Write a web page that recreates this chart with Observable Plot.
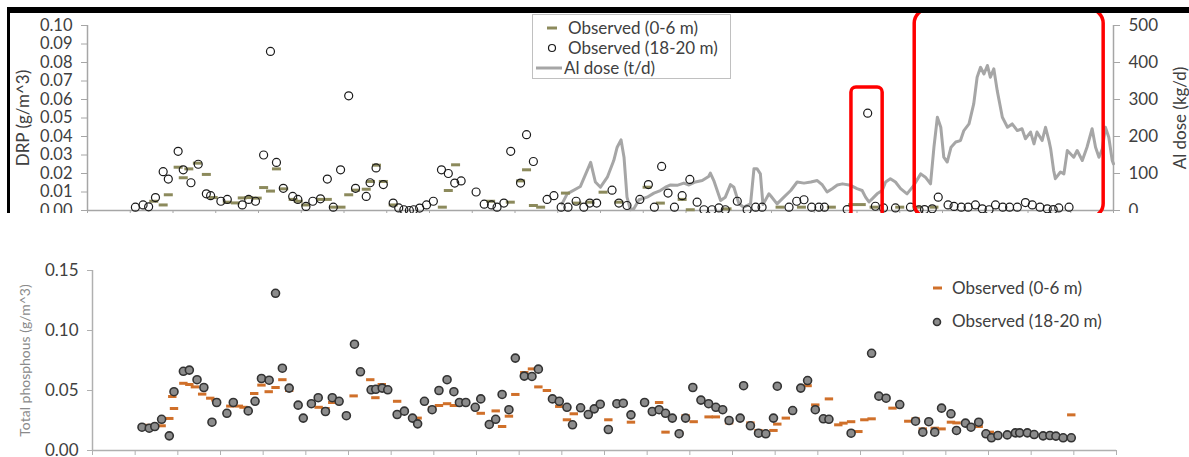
<!DOCTYPE html>
<html>
<head>
<meta charset="utf-8">
<script src="https://cdn.jsdelivr.net/npm/d3@7"></script>
<script src="https://cdn.jsdelivr.net/npm/@observablehq/plot@0.6"></script>
<style>
  body { margin: 0; background: #fff; font-family: Lato, "Liberation Sans", sans-serif; }
  #wrap { position: relative; width: 1189px; height: 457px; overflow: hidden; background: #fff; }
  #top { position: absolute; left: 0; top: 0; }
  #bot { position: absolute; left: 0; top: 215px; }
  #frame { position: absolute; left: 7px; top: 7px; width: 1182px; height: 206px; border-top: 6px solid #000; border-left: 3px solid #000; box-sizing: border-box; pointer-events: none; z-index: 5; }
  .leg { position: absolute; font-family: Lato, sans-serif; font-size: 17px; color: #404040; z-index: 4; }
  .leg .row { position: absolute; left: 0; white-space: nowrap; line-height: 20px; }
  .leg svg { position: absolute; }
  #legTop { left: 532px; top: 14px; width: 197px; height: 63px; border: 1px solid #c0c0c0; background: #fff; }
  #legBot { left: 928px; top: 277px; width: 200px; height: 60px; }
</style>
</head>
<body>
<div id="wrap">
  <div id="top"></div>
  <div id="bot"></div>
  <div id="legTop" class="leg">
    <svg style="left:12px;top:8px" width="14" height="10"><line x1="2" x2="12" y1="5" y2="5" stroke="#8c8a5c" stroke-width="3"/></svg>
    <span class="row" style="left:35px;top:3px">Observed (0-6 m)</span>
    <svg style="left:12px;top:28px" width="14" height="10"><circle cx="7" cy="5" r="3.5" fill="none" stroke="#1a1a1a" stroke-width="1.2"/></svg>
    <span class="row" style="left:35px;top:23px">Observed (18-20 m)</span>
    <svg style="left:3px;top:48px" width="28" height="10"><line x1="0" x2="26" y1="5" y2="5" stroke="#a6a6a6" stroke-width="3"/></svg>
    <span class="row" style="left:31px;top:43px">Al dose (t/d)</span>
  </div>
  <div id="legBot" class="leg">
    <svg style="left:3px;top:6px" width="14" height="10"><line x1="2" x2="11" y1="5" y2="5" stroke="#d0702a" stroke-width="3"/></svg>
    <span class="row" style="left:24px;top:1px">Observed (0-6 m)</span>
    <svg style="left:3px;top:39px" width="14" height="12"><circle cx="6" cy="6" r="3.5" fill="#8c8c8c" stroke="#333" stroke-width="1.6"/></svg>
    <span class="row" style="left:24px;top:34px">Observed (18-20 m)</span>
  </div>
  <div id="frame"></div>
</div>
<script>
// ---------- DATA (x in period units, 0..24) ----------
// Top panel: dissolved reactive phosphorus (g/m^3)
const drpDeepX = [1.12,1.30,1.43,1.59,1.77,1.89,2.12,2.24,2.42,2.59,2.78,2.88,3.12,3.27,3.62,3.77,3.93,4.12,4.28,4.42,4.58,4.80,4.92,5.11,5.27,5.45,5.61,5.75,5.92,6.11,6.27,6.52,6.61,6.75,6.92,7.15,
  7.28,7.40,7.53,7.63,7.77,7.93,8.09,8.28,8.44,8.59,8.74,9.09,9.28,9.45,9.58,9.74,9.90,10.13,10.27,10.43,10.75,10.91,11.08,11.24,11.43,11.61,11.75,11.91,12.27,12.43,12.62,12.92,13.12,13.26,13.43,13.58,13.73,13.91,14.09,14.26,14.42,14.61,14.77,14.92,15.20,15.43,15.63,15.78,
  16.41,16.59,16.76,16.94,17.11,17.24,17.77,18.25,18.43,18.62,18.90,19.25,19.45,19.58,19.76,19.90,20.13,20.27,20.44,20.60,20.77,20.93,21.09,21.24,21.41,21.57,21.75,21.94,22.10,22.28,22.45,22.59,22.72,22.96];
const drpDeep = [0.0018,0.003,0.002,0.007,0.021,0.017,0.032,0.022,0.015,0.025,0.009,0.008,0.005,0.006,0.003,0.006,0.005,0.030,0.086,0.026,0.012,0.0076,0.006,0.0022,0.005,0.0063,0.017,0.0018,0.022,0.062,0.012,0.0076,0.015,0.023,0.014,0.004,
  0.0014,0.0004,0.0,0.0004,0.0013,0.003,0.005,0.022,0.020,0.0148,0.016,0.010,0.0034,0.003,0.0018,0.004,0.032,0.0148,0.041,0.0265,0.006,0.008,0.0018,0.0018,0.005,0.0018,0.004,0.004,0.011,0.004,0.0027,0.006,0.014,0.0018,0.0238,0.0094,0.0018,0.008,0.0168,0.0045,0.0004,0.0004,0.0014,0.0004,0.005,0.0004,0.0018,0.0018,
  0.0018,0.005,0.0058,0.0018,0.0018,0.0018,0.0005,0.0526,0.0023,0.0014,0.0014,0.0018,0.0004,0.0005,0.0009,0.0072,0.003,0.0022,0.0018,0.0018,0.003,0.0009,0.0004,0.003,0.0018,0.0018,0.0018,0.0043,0.003,0.0018,0.0009,0.0005,0.0014,0.0018];
const drpSurfX = [1.55,1.77,1.89,2.12,2.24,2.37,2.57,2.78,2.94,3.27,3.46,3.62,3.77,3.97,4.12,4.28,4.42,4.59,4.81,4.93,5.10,5.45,5.61,5.76,5.93,6.11,6.27,6.52,6.62,6.76,6.92,7.15,
  8.30,8.44,8.61,9.43,9.89,10.13,10.27,10.43,10.60,11.18,11.45,11.75,12.06,12.43,13.09,13.40,13.91,14.10,14.96,16.2,16.7,17.4,17.9,18.1,18.4,19.0,19.4,19.8];
const drpSurf = [0.005,0.003,0.0085,0.0234,0.0177,0.0225,0.0256,0.0195,0.007,0.0045,0.0041,0.0068,0.007,0.0067,0.0124,0.0105,0.0225,0.0117,0.006,0.005,0.003,0.006,0.006,0.0018,0.0018,0.0085,0.011,0.0115,0.0157,0.0245,0.0157,0.003,
  0.0018,0.0108,0.0247,0.005,0.0045,0.016,0.022,0.0027,0.0018,0.0094,0.004,0.0045,0.0099,0.0045,0.0126,0.004,0.006,0.0004,0.0009,0.0018,0.0018,0.0018,0.0032,0.0032,0.0018,0.0018,0.0018,0.0018];
// Al dose (kg/d)
const alX = [11.10,11.22,11.53,11.77,11.88,12.00,12.16,12.31,12.39,12.48,12.55,12.62,12.70,12.78,12.90,13.09,13.25,13.40,13.52,13.64,13.79,13.95,14.07,14.22,14.38,14.53,14.57,14.65,14.81,14.92,15.04,15.12,15.24,15.35,15.51,15.59,15.66,15.74,15.80,15.94,
  15.98,16.13,16.29,16.45,16.60,16.76,16.92,17.07,17.19,17.30,17.42,17.54,17.66,17.85,18.00,18.12,18.20,18.28,18.36,18.47,18.59,18.67,18.78,18.90,19.02,19.17,19.33,19.49,19.60,19.72,19.80,19.88,19.96,20.03,20.11,20.20,20.31,20.42,20.50,20.62,20.73,20.81,20.89,20.97,21.05,21.12,21.20,21.28,21.40,21.52,21.63,21.75,21.86,21.94,22.06,22.14,22.21,22.33,22.41,22.49,22.53,22.60,22.64,22.76,22.84,22.92,23.07,23.15,23.27,23.38,23.50,23.58,23.66,23.74,23.81,23.89,23.97,24.00];
const alDose = [18,45,65,130,77,63,90,135,171,191,144,36,2,5,29,36,47,54,63,69,68,74,69,77,81,92,101,81,27,36,70,63,18,9,18,113,113,99,16,45,
  40,18,36,54,77,74,77,81,69,50,59,69,72,68,59,54,36,23,32,45,54,77,86,77,59,45,68,99,90,72,171,252,225,144,131,171,185,189,216,234,288,360,387,369,392,360,383,324,252,225,234,216,221,194,212,180,212,189,225,189,167,108,86,104,99,162,144,162,135,171,221,171,144,167,225,198,135,126];
// Bottom panel: total phosphorus (g/m^3)
const tpDeepX = [1.16,1.33,1.46,1.62,1.80,1.91,2.13,2.27,2.45,2.61,2.80,2.91,3.15,3.30,3.65,3.81,3.96,4.14,4.29,4.45,4.61,4.82,4.94,5.13,5.29,5.46,5.62,5.78,5.95,6.14,6.28,6.53,6.64,6.79,6.92,7.14,7.31,7.50,7.62,7.78,7.96,8.12,8.31,8.47,8.60,8.75,8.97,9.10,9.30,9.45,9.60,9.76,9.91,10.12,10.30,10.45,10.78,10.94,11.12,11.25,11.44,11.62,11.76,11.90,12.09,12.29,12.44,12.62,12.94,13.12,13.28,13.43,13.59,13.75,13.90,14.07,14.26,14.44,14.61,14.77,14.92,15.18,15.26,15.42,15.61,15.78,15.96,16.05,16.41,16.60,16.76,16.94,17.13,17.26,17.78,18.26,18.43,18.60,18.92,19.29,19.46,19.60,19.74,19.90,20.12,20.25,20.46,20.59,20.77,20.94,21.07,21.22,21.44,21.63,21.73,21.91,22.07,22.28,22.44,22.58,22.75,22.94];
const tpDeep = [0.0194,0.0186,0.020,0.026,0.0122,0.049,0.066,0.067,0.059,0.0525,0.0236,0.040,0.031,0.040,0.033,0.041,0.060,0.0586,0.131,0.0686,0.052,0.0378,0.027,0.039,0.044,0.0325,0.044,0.041,0.029,0.0886,0.0656,0.0506,0.051,0.052,0.0506,0.030,0.0328,0.027,0.0222,0.041,0.034,0.050,0.059,0.049,0.040,0.040,0.036,0.043,0.0217,0.026,0.0467,0.034,0.077,0.062,0.0617,0.0678,0.043,0.041,0.036,0.0214,0.0356,0.030,0.0347,0.0386,0.0175,0.039,0.0394,0.0297,0.040,0.0325,0.034,0.031,0.027,0.014,0.027,0.0525,0.042,0.039,0.036,0.034,0.025,0.027,0.054,0.0206,0.0144,0.0139,0.027,0.0536,0.0333,0.052,0.0583,0.034,0.0264,0.026,0.0144,0.081,0.0453,0.0436,0.0383,0.0244,0.0153,0.024,0.0153,0.0353,0.0306,0.0167,0.0228,0.0194,0.0236,0.0139,0.0106,0.0125,0.013,0.0147,0.0147,0.0147,0.0133,0.0122,0.0125,0.012,0.0106,0.0106];
const tpSurfX = [1.28,1.62,1.80,1.87,1.91,2.13,2.27,2.40,2.57,2.76,2.88,3.23,3.43,3.54,3.79,3.96,4.13,4.29,4.45,4.61,5.30,5.46,5.62,6.12,6.51,6.63,6.78,7.14,7.62,7.96,8.12,8.31,8.47,9.10,9.45,9.60,9.76,9.91,10.12,10.30,10.45,10.65,10.94,11.12,11.28,12.09,12.62,13.28,13.43,13.75,13.90,14.09,14.44,14.61,14.92,15.42,15.61,15.96,16.05,16.25,16.76,16.94,17.26,17.48,17.60,17.78,17.95,18.09,18.26,18.75,19.12,19.29,19.46,19.74,19.90,20.12,20.25,20.77,21.03,22.94];
const tpSurf = [0.021,0.0206,0.0267,0.045,0.035,0.056,0.055,0.053,0.047,0.0436,0.042,0.037,0.037,0.036,0.0475,0.0545,0.049,0.0525,0.059,0.050,0.036,0.035,0.040,0.0455,0.059,0.044,0.055,0.041,0.027,0.0356,0.0375,0.039,0.0375,0.031,0.033,0.020,0.0286,0.0467,0.065,0.068,0.053,0.050,0.0367,0.0256,0.0306,0.0256,0.0236,0.040,0.0153,0.0147,0.029,0.024,0.028,0.028,0.023,0.023,0.0167,0.0167,0.022,0.027,0.054,0.038,0.043,0.0214,0.0228,0.024,0.0158,0.0256,0.0264,0.0353,0.0244,0.0264,0.018,0.0186,0.018,0.0236,0.023,0.020,0.0153,0.0297];
// Highlight boxes (data units)
const boxSmall = [{x1: 17.87, x2: 18.60, y1: -0.004, y2: 0.0665}];
const boxLarge = [{x1: 19.35, x2: 23.77, y1: -0.004, y2: 0.1086}];

// ---------- BUILD ----------
const zip = (xs, ys) => xs.map((x, i) => ({x, y: ys[i]}));
const alData = alX.map((x, i) => ({x, y: alDose[i] / 5000}));
const hline = {draw(ctx, size) { const r = Math.sqrt(size / Math.PI); ctx.moveTo(-r, 0); ctx.lineTo(r, 0); }};
const axisGray = "#a6a6a6";
const txt = "#404040";

const topPlot = Plot.plot({
  width: 1189, height: 213,
  marginTop: 25, marginBottom: 3, marginLeft: 87, marginRight: 76,
  style: {fontFamily: "Lato, sans-serif", fontSize: "17px", color: txt, background: "transparent"},
  x: {domain: [0, 24]},
  y: {domain: [0, 0.1]},
  marks: [
    Plot.axisX({ticks: d3.range(0, 25), tickSize: 5, tickFormat: () => "", stroke: axisGray, label: null}),
    Plot.axisY({anchor: "left", ticks: d3.range(0, 0.1001, 0.01), tickFormat: d3.format(".2f"), tickSize: 6, tickPadding: 9, stroke: axisGray, fill: txt, fontSize: 16.5, label: null}),
    Plot.axisY({anchor: "left", ticks: [], label: "DRP (g/m^3)", labelAnchor: "center", labelOffset: 71, labelArrow: "none", fill: txt}),
    Plot.axisY({anchor: "right", ticks: d3.range(0, 0.1001, 0.02), tickFormat: d => Math.round(d * 5000), tickSize: 6, tickPadding: 9, stroke: axisGray, fill: txt, label: null}),
    Plot.axisY({anchor: "right", ticks: [], label: "Al dose (kg/d)", labelAnchor: "center", labelOffset: 72, labelArrow: "none", fill: txt}),
    Plot.ruleY([0], {stroke: axisGray, strokeWidth: 1.5}),
    Plot.ruleX([0, 24], {stroke: axisGray, strokeWidth: 1.5}),
    Plot.line(alData, {x: "x", y: "y", stroke: "#a6a6a6", strokeWidth: 3}),
    Plot.dot(zip(drpSurfX, drpSurf), {x: "x", y: "y", symbol: hline, r: 4.5, stroke: "#8c8a5c", strokeWidth: 3, fill: "none"}),
    Plot.dot(zip(drpDeepX, drpDeep), {x: "x", y: "y", r: 4, stroke: "#1a1a1a", strokeWidth: 1.2, fill: "none"}),
    Plot.rect(boxSmall, {x1: "x1", x2: "x2", y1: "y1", y2: "y2", stroke: "#ff0000", strokeWidth: 3.5, fill: "none", rx: 5}),
    Plot.rect(boxLarge, {x1: "x1", x2: "x2", y1: "y1", y2: "y2", stroke: "#ff0000", strokeWidth: 3.5, fill: "none", rx: 14})
  ]
});
document.getElementById("top").appendChild(topPlot);

const botPlot = Plot.plot({
  width: 1189, height: 242,
  marginTop: 55, marginBottom: 7, marginLeft: 92, marginRight: 73,
  style: {fontFamily: "Lato, sans-serif", fontSize: "17px", color: txt, background: "transparent"},
  x: {domain: [0, 24]},
  y: {domain: [0, 0.15]},
  marks: [
    Plot.axisX({ticks: d3.range(0, 25), tickSize: 5, tickFormat: () => "", stroke: "#b0b0b0", label: null}),
    Plot.axisY({anchor: "left", ticks: [0, 0.05, 0.10, 0.15], tickFormat: d3.format(".2f"), tickSize: 5, tickPadding: 9, stroke: "#b0b0b0", fill: txt, label: null}),
    Plot.axisY({anchor: "left", ticks: [], label: "Total phosphous (g/m^3)", labelAnchor: "center", labelOffset: 72, labelArrow: "none", fill: "#8a8a8a", fontSize: 14}),
    Plot.ruleY([0], {stroke: "#b0b0b0", strokeWidth: 1.5}),
    Plot.ruleX([0], {stroke: "#b0b0b0", strokeWidth: 1.5}),
    Plot.dot(zip(tpSurfX, tpSurf), {x: "x", y: "y", symbol: hline, r: 4.2, stroke: "#d0702a", strokeWidth: 3, fill: "none"}),
    Plot.dot(zip(tpDeepX, tpDeep), {x: "x", y: "y", r: 4, fill: "#8c8c8c", stroke: "#333", strokeWidth: 1.6})
  ]
});
document.getElementById("bot").appendChild(botPlot);
</script>
</body>
</html>
